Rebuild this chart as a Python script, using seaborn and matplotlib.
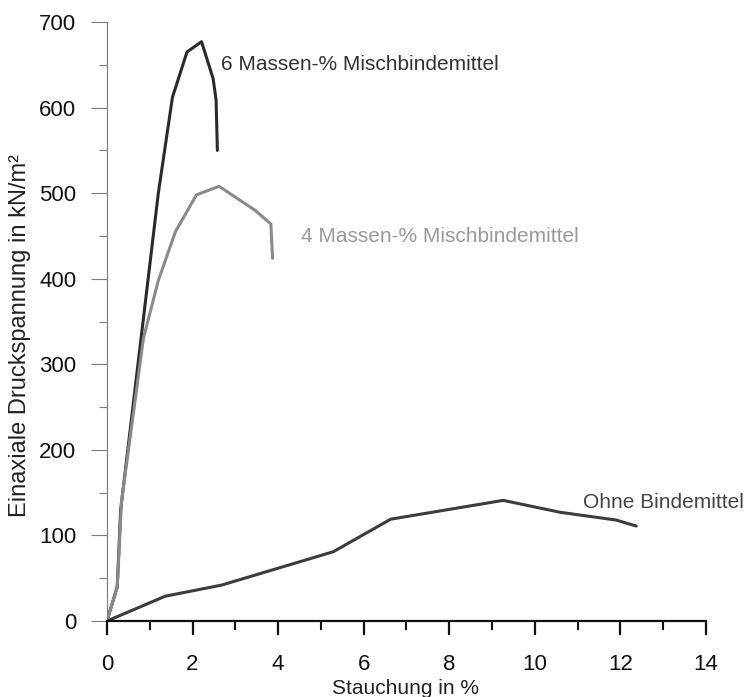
import pandas as pd
import matplotlib
matplotlib.use("Agg")
import matplotlib.pyplot as plt
import seaborn as sns
from matplotlib.ticker import MultipleLocator

# Stauchung in % / Druckspannung in kN/m2
x_6 = [0, 0.24, 0.32, 1.2, 1.53, 1.87, 2.21, 2.48, 2.55, 2.58]
y_6 = [0, 40, 130, 500, 612, 665, 677, 634, 609, 550]

x_4 = [0, 0.24, 0.34, 0.65, 0.85, 1.2, 1.6, 2.09, 2.62, 3.46, 3.83, 3.87]
y_4 = [0, 40, 140, 255, 330, 398, 455, 498, 508, 480, 464, 424]

x_0 = [0, 1.36, 2.68, 5.29, 6.63, 9.26, 10.6, 11.9, 12.37]
y_0 = [0, 29, 42, 81, 119, 141, 127, 118, 111]

labels = ["6 Massen-% Mischbindemittel", "4 Massen-% Mischbindemittel", "Ohne Bindemittel"]

df = pd.concat([
    pd.DataFrame({"x": x_6, "y": y_6, "serie": labels[0]}),
    pd.DataFrame({"x": x_4, "y": y_4, "serie": labels[1]}),
    pd.DataFrame({"x": x_0, "y": y_0, "serie": labels[2]}),
])

sns.set_style("white")
plt.rcParams["font.family"] = ["Liberation Sans", "DejaVu Sans"]

farben = {labels[0]: "#2a2a2a", labels[1]: "#8a8a8a", labels[2]: "#3c3c3c"}

fig = plt.figure(figsize=(7.46, 6.97), dpi=100)
ax = fig.add_axes([0.1434, 0.109, 0.803, 0.8594])

for name in labels:
    sub = df[df["serie"] == name]
    sns.lineplot(x=sub["x"].values, y=sub["y"].values, sort=False, estimator=None,
                 color=farben[name], linewidth=2.2, ax=ax)

ax.set_xlim(0, 14)
ax.set_ylim(0, 700)
ax.xaxis.set_major_locator(MultipleLocator(2))
ax.xaxis.set_minor_locator(MultipleLocator(1))
ax.yaxis.set_major_locator(MultipleLocator(100))
ax.yaxis.set_minor_locator(MultipleLocator(50))

for s in ["top", "right"]:
    ax.spines[s].set_visible(False)
ax.spines["left"].set_color("#7a7a7a")
ax.spines["left"].set_linewidth(0.8)
ax.spines["bottom"].set_color("#111111")
ax.spines["bottom"].set_linewidth(1.6)

ax.tick_params(axis="x", which="major", direction="out", length=10, width=1.6,
               color="#111111", labelsize=16, pad=14, bottom=True, labelcolor="#111111")
ax.tick_params(axis="x", which="minor", direction="out", length=6.5, width=1.5,
               color="#111111", bottom=True)
ax.tick_params(axis="y", which="major", direction="out", length=11.5, width=0.8,
               color="#7a7a7a", labelsize=16, pad=10.5, left=True, labelcolor="#111111")
ax.tick_params(axis="y", which="minor", direction="out", length=5.8, width=0.8,
               color="#7a7a7a", left=True)

ax.set_xlabel("Stauchung in %", fontsize=15, color="#222222")
ax.xaxis.label.set_verticalalignment("center")
ax.xaxis.set_label_coords(0.498, -0.112)
ax.set_ylabel("Einaxiale Druckspannung in kN/m²", fontsize=17, color="#222222")
ax.yaxis.label.set_verticalalignment("center")
ax.yaxis.set_label_coords(-0.145, 0.477)

ax.text(2.66, 650, labels[0], fontsize=15, color="#333333", va="center", ha="left")
ax.text(4.53, 449, labels[1], fontsize=15, color="#9a9a9a", va="center", ha="left")
ax.text(11.13, 138, labels[2], fontsize=15, color="#444444", va="center", ha="left", clip_on=False)

fig.savefig("out.png", dpi=100)
